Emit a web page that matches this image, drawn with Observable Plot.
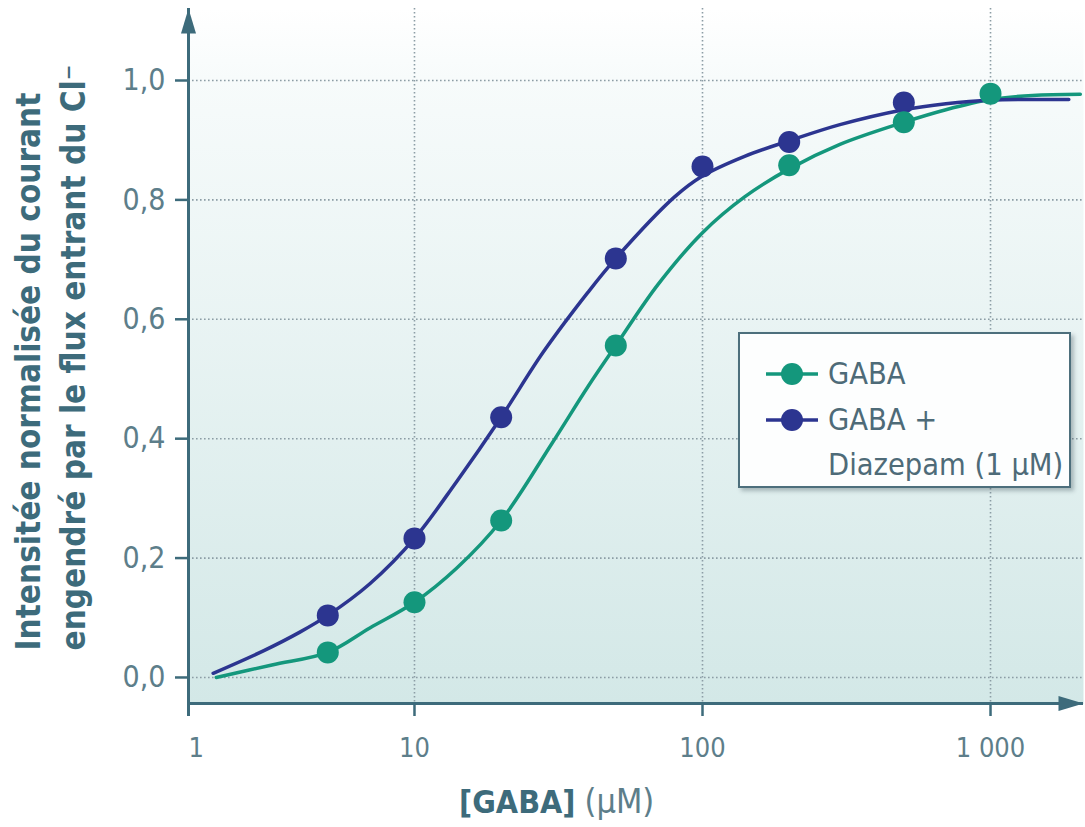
<!DOCTYPE html>
<html><head><meta charset="utf-8">
<script src="https://cdn.jsdelivr.net/npm/d3@7"></script>
<script src="https://cdn.jsdelivr.net/npm/@observablehq/plot@0.6"></script>
<style>
html,body{margin:0;padding:0;background:#fff;overflow:hidden}
#wrap{position:relative;width:1085px;height:827px}
#legend{position:absolute;left:738px;top:332px;width:329px;height:152px;border:2.5px solid #4d6f7c;background:#fdfefe;box-shadow:3px 3px 4px rgba(60,80,90,0.35);font-family:'DejaVu Sans Condensed','Liberation Sans Narrow','Roboto Condensed',sans-serif;font-stretch:condensed;color:#4e6b78;font-size:30.5px}
.row{position:absolute;left:0;display:flex;align-items:center}
.row svg{display:block}
.lbl{position:absolute;left:88px;white-space:nowrap;line-height:1}
</style></head><body><div id="wrap"></div>
<script>
// ---- data ----
const gabaDoseX = [5, 10, 20, 50, 200, 500, 1000];
const gabaDoseY = [0.042, 0.126, 0.263, 0.556, 0.858, 0.930, 0.978];
const diazDoseX = [5, 10, 20, 50, 100, 200, 500];
const diazDoseY = [0.104, 0.233, 0.436, 0.702, 0.856, 0.897, 0.963];
// fitted curves
const gabaCurveX = [2.05, 3.2, 5, 7, 10, 14, 20, 30, 40, 50, 70, 100, 140, 200, 300, 500, 700, 1000, 1400, 2050];
const gabaCurveY = [0.0, 0.021, 0.042, 0.083, 0.126, 0.183, 0.263, 0.392, 0.487, 0.556, 0.658, 0.745, 0.805, 0.852, 0.893, 0.930, 0.951, 0.968, 0.975, 0.977];
const diazCurveX = [2, 3, 4, 5, 7, 10, 14, 20, 28, 40, 50, 80, 100, 140, 200, 300, 500, 700, 1000, 1870];
const diazCurveY = [0.007, 0.045, 0.076, 0.104, 0.157, 0.233, 0.328, 0.436, 0.545, 0.645, 0.702, 0.805, 0.840, 0.873, 0.899, 0.926, 0.951, 0.961, 0.967, 0.968];
const xTicks = [10, 100, 1000];
const xTickLabels = ["10", "100", "1 000"];
const originLabel = "1";
const yTicks = [0, 0.2, 0.4, 0.6, 0.8, 1.0];
const seriesNames = ["GABA", "GABA +\nDiazepam (1 µM)"];
const yTitle = "Intensitée normalisée du courant\nengendré par le flux entrant du Cl⁻";
const xTitleBold = "[GABA]";
const xTitleUnit = "(µM)";

// ---- style ----
const teal = "#14977c", navy = "#2c3590";
const axisColor = "#3d6b7b", tickText = "#5d7e8a", gridColor = "#8c9da5";
const FONT = "'DejaVu Sans Condensed','Liberation Sans Narrow','Roboto Condensed',sans-serif";
const xDomain = [1.642, 2103];
const yDomain = [-0.0436, 1.1206];

const toPts = (xs, ys) => xs.map((x, i) => ({x, y: ys[i]}));
const gabaPts = toPts(gabaDoseX, gabaDoseY);
const diazPts = toPts(diazDoseX, diazDoseY);
const gabaCurve = toPts(gabaCurveX, gabaCurveY);
const diazCurve = toPts(diazCurveX, diazCurveY);

const arrowUp = {draw(ctx) { ctx.moveTo(0, 0); ctx.lineTo(7.5, 25); ctx.lineTo(-7.5, 25); ctx.closePath(); }};
const fmtY = d => d.toFixed(1).replace(".", ",");

const chart = Plot.plot({
  width: 1085, height: 827,
  marginTop: 8, marginRight: 2, marginBottom: 124, marginLeft: 188,
  style: {fontFamily: FONT, background: "transparent", overflow: "visible"},
  x: {type: "log", domain: xDomain, axis: null},
  y: {domain: yDomain, axis: null},
  marks: [
    Plot.frame({fill: "url(#bgGrad)", stroke: "none"}),
    Plot.gridY(yTicks, {stroke: gridColor, strokeOpacity: 1, strokeWidth: 1.6, strokeDasharray: "1.6,2.4"}),
    Plot.gridX(xTicks, {stroke: gridColor, strokeOpacity: 1, strokeWidth: 1.6, strokeDasharray: "1.6,2.4"}),
    Plot.line(gabaCurve, {x: "x", y: "y", curve: "catmull-rom", stroke: teal, strokeWidth: 3.5}),
    Plot.line(diazCurve, {x: "x", y: "y", curve: "catmull-rom", stroke: navy, strokeWidth: 3.5}),
    Plot.dot(diazPts, {x: "x", y: "y", r: 11, fill: navy}),
    Plot.dot(gabaPts, {x: "x", y: "y", r: 11, fill: teal}),
    Plot.ruleX([xDomain[0]], {stroke: axisColor, strokeWidth: 3, insetBottom: -13}),
    Plot.ruleY([yDomain[0]], {stroke: axisColor, strokeWidth: 3}),
    Plot.axisX(xTicks, {tickSize: 13, tickPadding: 21, strokeWidth: 2.5, stroke: axisColor, fill: tickText, fontSize: 27, tickFormat: d => xTickLabels[xTicks.indexOf(d)], label: null}),
    Plot.axisY(yTicks, {tickSize: 13, tickPadding: 10, strokeWidth: 2.5, stroke: axisColor, fill: tickText, fontSize: 30, tickFormat: fmtY, label: null}),
    Plot.text([originLabel], {frameAnchor: "bottom-left", text: d => d, lineAnchor: "top", dy: 34, fontSize: 27, fill: tickText}),
    Plot.dot([{x: xDomain[0], y: yDomain[1]}], {x: "x", y: "y", symbol: arrowUp, fill: axisColor, stroke: "none", r: 5}),
    Plot.dot([{x: xDomain[1], y: yDomain[0]}], {x: "x", y: "y", symbol: arrowUp, rotate: 90, fill: axisColor, stroke: "none", r: 5}),
    Plot.text([yTitle], {frameAnchor: "bottom-left", text: d => d, rotate: -90, textAnchor: "start", lineAnchor: "middle", lineHeight: 1.36, fontSize: 33, fontWeight: "bold", fill: axisColor, dx: -140, dy: -53}),
    Plot.text([xTitleBold], {frameAnchor: "bottom", text: d => d, textAnchor: "end", lineAnchor: "middle", fontSize: 32, fontWeight: "bold", fill: axisColor, dx: -60.5, dy: 99}),
    Plot.text([xTitleUnit], {frameAnchor: "bottom", text: d => d, textAnchor: "start", lineAnchor: "middle", fontSize: 34, letterSpacing: "2px", fill: "#5d7e8a", dx: -51.5, dy: 99})
  ]
});

const defs = d3.select(chart).insert("defs", ":first-child");
const g = defs.append("linearGradient").attr("id", "bgGrad").attr("x1", 0).attr("y1", 0).attr("x2", 0).attr("y2", 1);
g.append("stop").attr("offset", 0).attr("stop-color", "#ffffff");
g.append("stop").attr("offset", 0.1).attr("stop-color", "#f7fbfb");
g.append("stop").attr("offset", 1).attr("stop-color", "#d3e8e7");

const wrap = document.getElementById("wrap");
wrap.appendChild(chart);

// legend
const legend = document.createElement("div");
legend.id = "legend";
const colors = [teal, navy];
const rowTops = [27, 73];
seriesNames.forEach((name, i) => {
  const sw = document.createElement("div");
  sw.className = "row";
  sw.style.top = (rowTops[i]) + "px";
  sw.style.left = "24px";
  sw.innerHTML = `<svg width="56" height="26"><line x1="2" x2="54" y1="13" y2="13" stroke="${colors[i]}" stroke-width="3.5"/><circle cx="28" cy="13" r="11" fill="${colors[i]}"/></svg>`;
  legend.appendChild(sw);
  name.split("\n").forEach((line, j) => {
    const t = document.createElement("div");
    t.className = "lbl";
    t.textContent = line;
    t.style.top = (rowTops[i] - 2 + j * 45) + "px";
    legend.appendChild(t);
  });
});
wrap.appendChild(legend);
</script>
</body></html>
